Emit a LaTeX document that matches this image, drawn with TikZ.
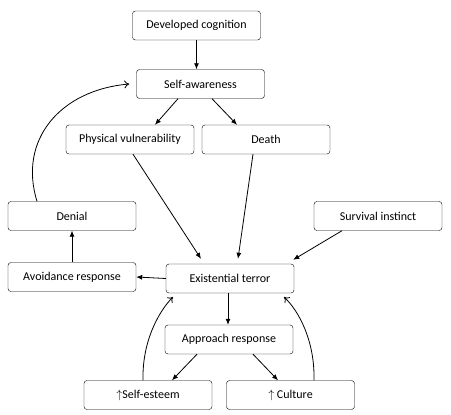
\documentclass[tikz,border=0pt]{standalone}
\usepackage{fontspec}
\setmainfont{Carlito}
\usetikzlibrary{arrows.meta}

\begin{document}
\begin{tikzpicture}[x=1pt, y=-1pt,
        box/.style={draw, rounded corners=3pt, minimum width=128pt, minimum height=29pt, inner sep=0pt, font=\fontsize{12}{14}\selectfont},
        arr/.style={-{Latex[length=6pt,width=5pt]}, thick},
        back/.style={-{To[length=5pt,width=8pt]}, thick}]
        \useasboundingbox (0,0) rectangle (451,415);
        \node[box] (cog) at (196.5, 25.5) {Developed cognition};
        \node[box] (self) at (200.5, 84) {Self-awareness};
        \node[box] (phys) at (130, 139.5) {Physical vulnerability};
        \node[box] (death) at (266, 139.5) {Death};
        \node[box] (denial) at (72, 216) {Denial};
        \node[box] (surv) at (378, 216) {Survival instinct};
        \node[box] (avoid) at (72, 277) {Avoidance response};
        \node[box] (terror) at (230, 278.5) {Existential terror};
        \node[box] (appr) at (229, 339.5) {Approach response};
        \node[box] (esteem) at (148, 395) {$\uparrow$Self-esteem};
        \node[box] (cult) at (290.5, 395) {$\uparrow$ Culture};
        \draw[arr] (cog.south -| 196.5,0) -- (self.north -| 196.5,0);
        \draw[arr] (self.south -| 178,0) -- ([xshift=25pt]phys.north);
        \draw[arr] (self.south -| 212,0) -- ([xshift=-29pt]death.north);
        \draw[arr] (phys.south -| 133,0) -- ([xshift=-29pt, yshift=5pt]terror.north);
        \draw[arr] (death.south -| 253,0) -- ([xshift=8pt, yshift=5pt]terror.north);
        \draw[arr] (surv.south -| 342,0) -- ([xshift=-1pt, yshift=4pt]terror.north east);
        \draw[arr] (terror.west) -- (avoid.east);
        \draw[arr] (avoid.north) -- (denial.north |- denial.south);
        \draw[arr] (terror.south -| 228,0) -- (appr.north -| 228,0);
        \draw[arr] (appr.south -| 197,0) -- (esteem.north -| 172,0);
        \draw[arr] (appr.south -| 253,0) -- (cult.north -| 278,0);
        \draw[back] (denial.north -| 37,0) .. controls (18,140) and (60,90) .. ([xshift=-7pt]self.west);
        \draw[back] (esteem.north -| 143,0) .. controls (142,340) and (160,310) .. (173,297);
        \draw[back] (cult.north -| 314,0) .. controls (315,340) and (298,310) .. (284,297);
\end{tikzpicture}
\end{document}
